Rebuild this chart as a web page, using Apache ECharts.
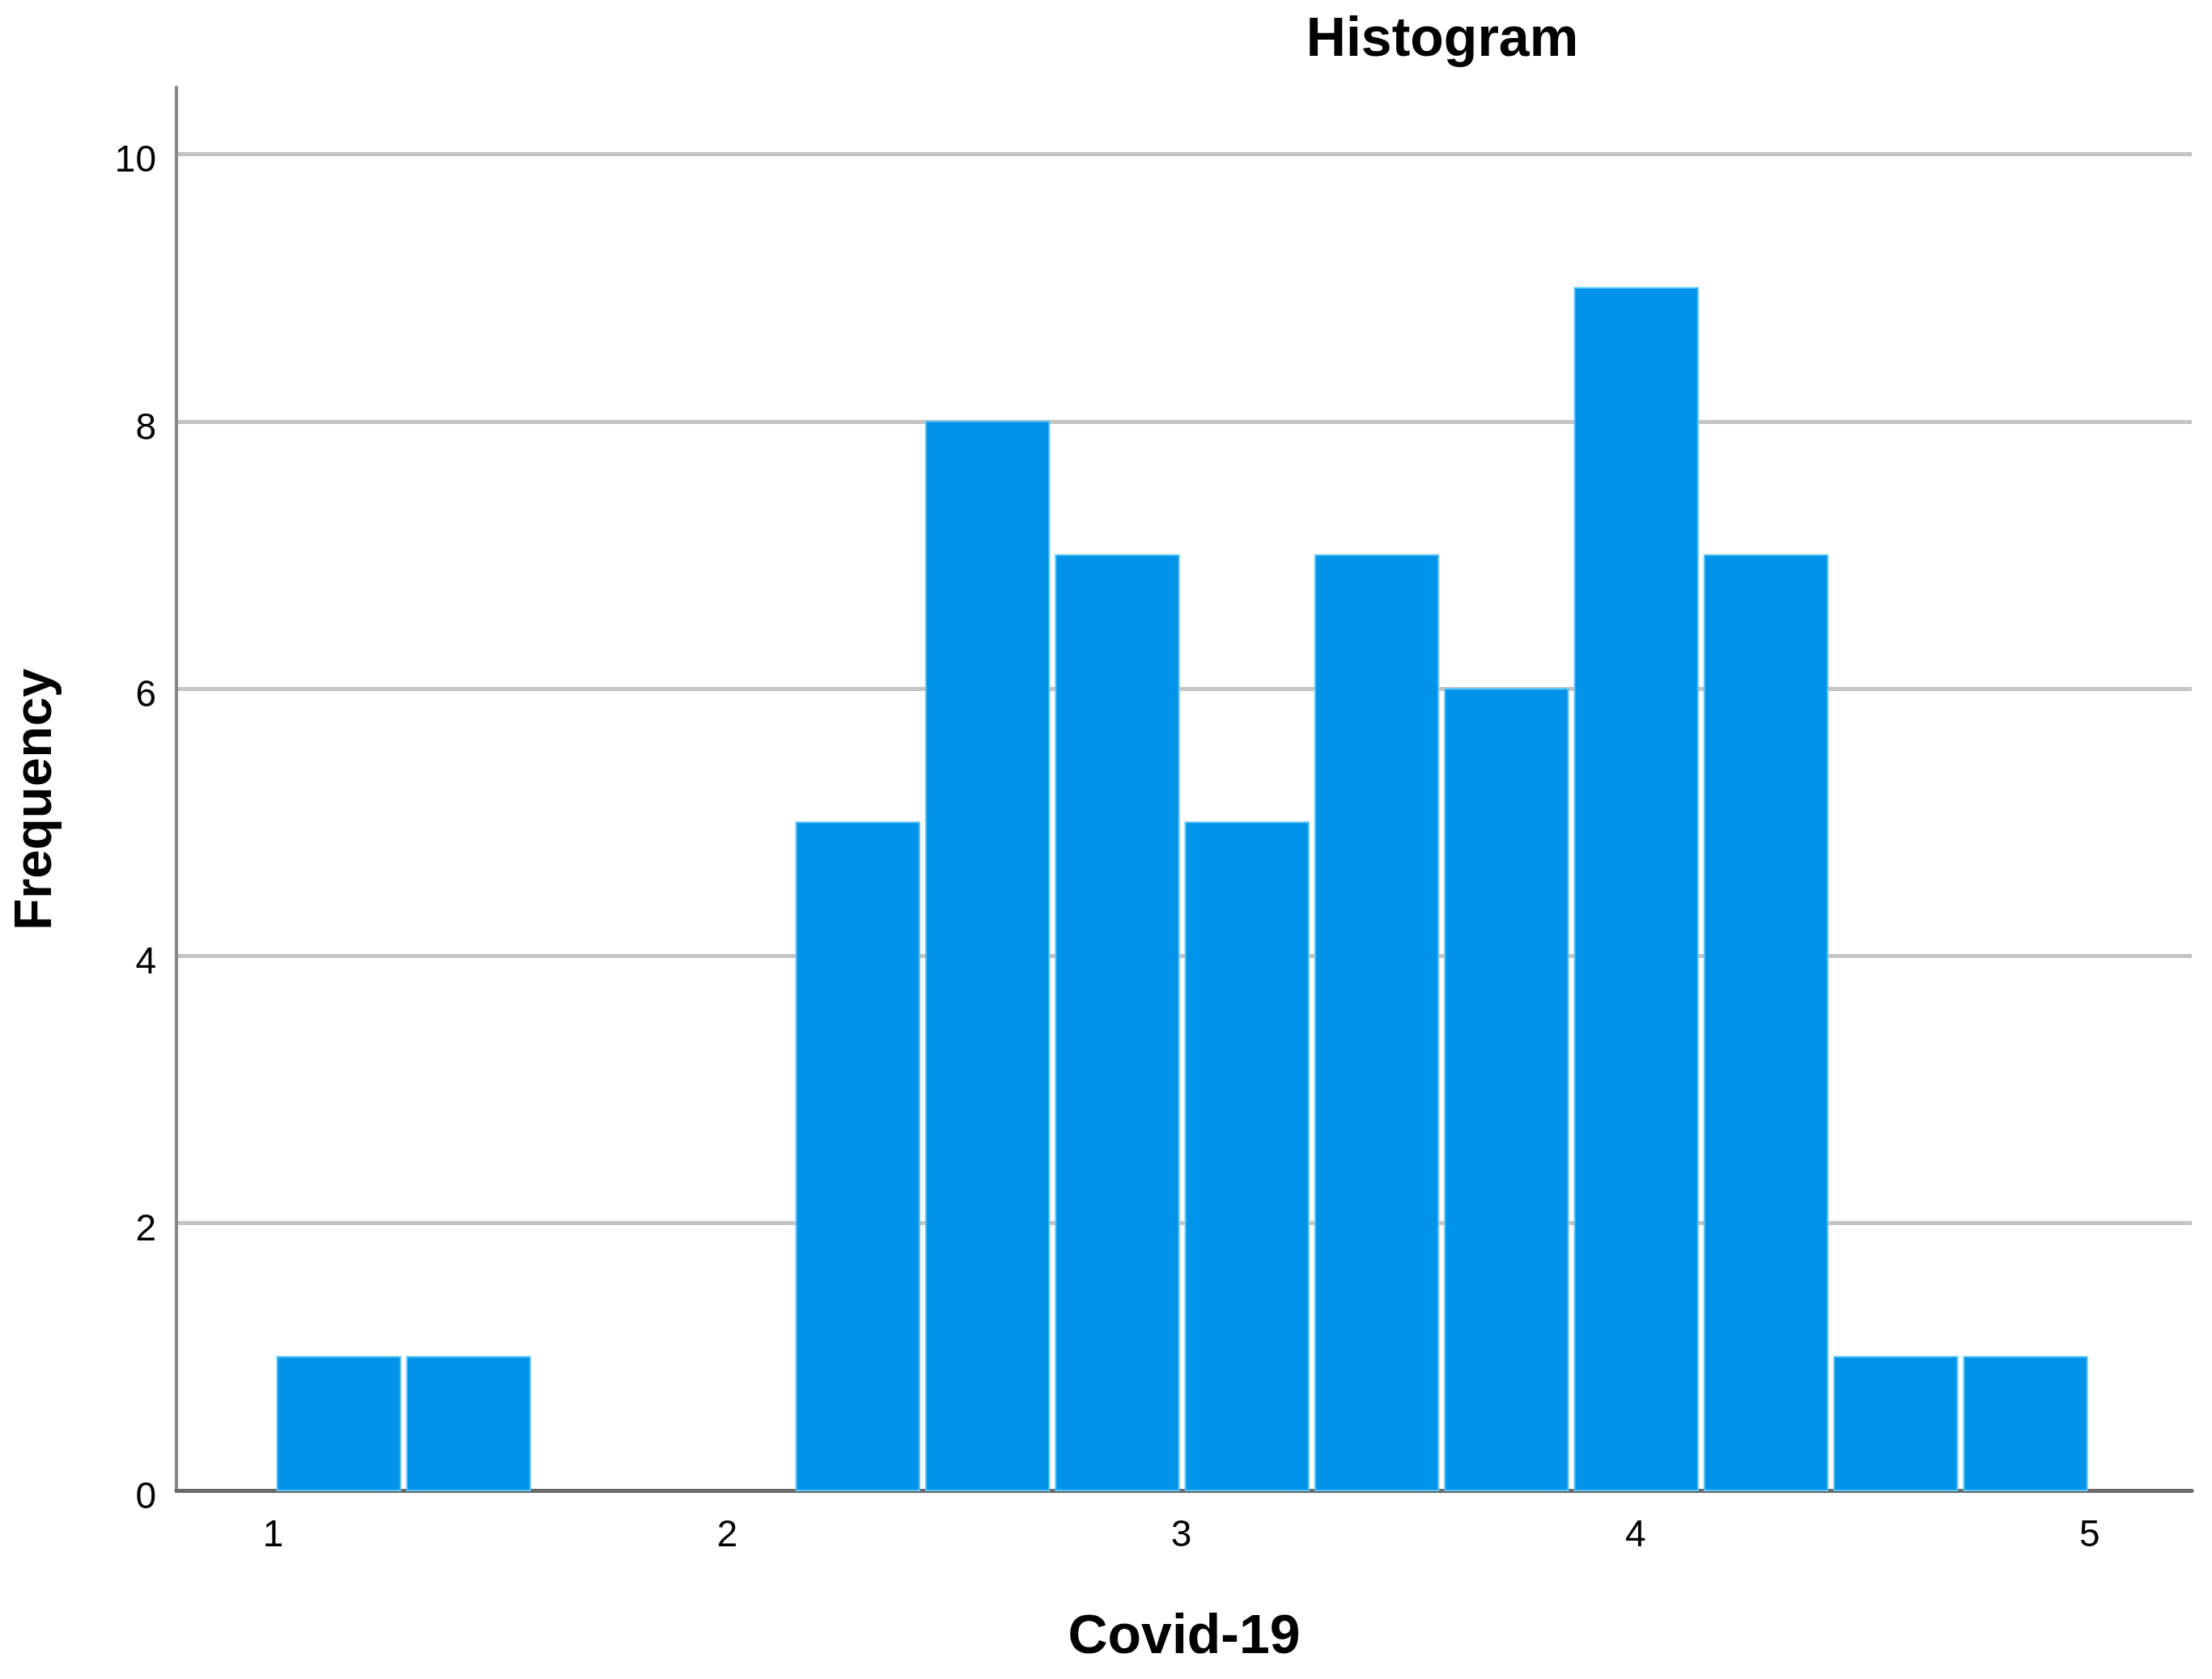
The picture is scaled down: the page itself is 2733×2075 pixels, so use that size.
<!DOCTYPE html>
<html>
<head>
<meta charset="utf-8">
<script src="https://cdn.jsdelivr.net/npm/echarts@6/dist/echarts.min.js"></script>
<style>
html,body{margin:0;padding:0;background:#fff;}
#chart{width:2733px;height:2075px;}
</style>
</head>
<body>
<div id="chart"></div>
<script>
// ---- data ----
const titleText = 'Histogram';
const xAxisName = 'Covid-19';
const yAxisName = 'Frequency';
const binEdges = [1, 1.2857, 1.5714, 1.8571, 2.1429, 2.4286, 2.7143, 3, 3.2857, 3.5714, 3.8571, 4.1429, 4.4286, 4.7143, 5];
const counts = [1, 1, 0, 0, 5, 8, 7, 5, 7, 6, 9, 7, 1, 1];
const xTickValues = [1, 2, 3, 4, 5];
const yTickValues = [0, 2, 4, 6, 8, 10];

const bins = counts.map((c, i) => [binEdges[i], binEdges[i + 1], c]);

const FONT = '"Liberation Sans", Arial, Helvetica, sans-serif';
const chart = echarts.init(document.getElementById('chart'));
chart.setOption({
  backgroundColor: '#ffffff',
  animation: false,
  grid: { left: 218, right: 25, top: 108, bottom: 233, containLabel: false },
  xAxis: {
    type: 'value',
    min: 0.787,
    max: 5.225,
    axisLine: { show: true, onZero: false, lineStyle: { color: '#6A6A6A', width: 5 } },
    axisTick: { show: false, customValues: xTickValues },
    splitLine: { show: false },
    axisLabel: {
      customValues: xTickValues,
      margin: 33,
      fontSize: 46,
      color: '#000',
      fontFamily: FONT
    }
  },
  yAxis: {
    type: 'value',
    min: 0,
    max: 10.5,
    axisLine: { show: true, lineStyle: { color: '#858585', width: 4 } },
    axisTick: { show: false, customValues: yTickValues },
    splitLine: { show: true, lineStyle: { color: '#C4C4C4', width: 5 } },
    axisLabel: {
      customValues: yTickValues,
      margin: 25,
      fontSize: 46,
      color: '#000',
      fontFamily: FONT,
      verticalAlign: 'top',
      lineHeight: 18
    }
  },
  graphic: [
    {
      type: 'text',
      x: 1782, y: 50,
      style: { text: titleText, font: 'bold 68px ' + FONT, fill: '#000', textAlign: 'center', textVerticalAlign: 'middle' }
    },
    {
      type: 'text',
      x: 1463, y: 2024,
      style: { text: xAxisName, font: 'bold 68px ' + FONT, fill: '#000', textAlign: 'center', textVerticalAlign: 'middle' }
    },
    {
      type: 'text',
      x: 45, y: 988,
      rotation: Math.PI / 2,
      style: { text: yAxisName, font: 'bold 64px ' + FONT, fill: '#000', textAlign: 'center', textVerticalAlign: 'middle' }
    }
  ],
  series: [{
    type: 'custom',
    data: bins,
    encode: { x: [0, 1], y: 2 },
    renderItem: function (params, api) {
      const x0 = api.value(0), x1 = api.value(1), c = api.value(2);
      if (!c) return null;
      const p0 = api.coord([x0, c]);
      const p1 = api.coord([x1, 0]);
      return {
        type: 'rect',
        shape: { x: p0[0] + 5, y: p0[1], width: p1[0] - p0[0] - 8, height: p1[1] - p0[1] },
        style: { fill: '#0093E9', stroke: '#5CC6F2', lineWidth: 2 }
      };
    }
  }]
});
</script>
</body>
</html>
